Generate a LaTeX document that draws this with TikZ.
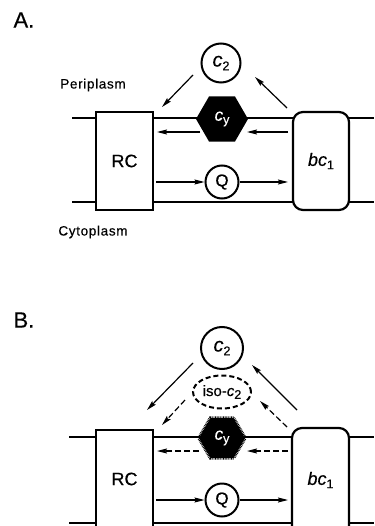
\documentclass[tikz,border=0pt]{standalone}
\usepackage{fontspec}
\setmainfont{Liberation Sans}[FakeBold=0.4]
\newfontfamily\spaced{Liberation Sans}[LetterSpace=5,FakeBold=0.4]
\usetikzlibrary{arrows.meta,shapes.geometric}
\newcommand{\mysub}[1]{\raisebox{-0.35ex}{\fontsize{12.5}{12.5}\selectfont #1}}
\begin{document}
\begin{tikzpicture}[x=1pt,y=-1pt,
  memb/.style={line width=1.8pt},
  boxrc/.style={draw,line width=2.2pt,fill=white},
  boxbc/.style={draw,line width=2.2pt,fill=white,rounded corners=10pt},
  circ/.style={draw,circle,line width=2pt,fill=white,inner sep=0pt},
  arr/.style={line width=1.2pt,-{Stealth[length=10pt,width=5pt,inset=1.5pt]}},
  darr/.style={arr,dash pattern=on 6pt off 3pt},
  lbl/.style={font=\fontsize{13.5}{13.5}\selectfont\spaced},
  big/.style={font=\fontsize{18}{18}\selectfont}]
\useasboundingbox (0,0) rectangle (374,526);
\clip (0,0) rectangle (374,526);

% ---------------- Part A ----------------
\node[anchor=west,font=\fontsize{22}{22}\selectfont] (labA) at (10,20) {A.};
\node[lbl] (peri) at (93,85) {Periplasm};
\node[lbl] (cyto) at (93,232) {Cytoplasm};
\draw[memb] (72,118) -- (374,118);
\draw[memb] (72,202) -- (374,202);
\node[boxrc,minimum width=57pt,minimum height=98pt,big] (rcA) at (124.5,161) {RC};
\node[boxbc,minimum width=56pt,minimum height=98pt,big] (bcA) at (321,161) {\itshape bc\upshape\mysub{1}};
\node[regular polygon,regular polygon sides=6,minimum size=52pt,inner sep=0pt,fill=black,text=white,font=\fontsize{17}{17}\selectfont] (cyA) at (222,119) {\itshape c\upshape\mysub{y}};
\node[circ,minimum size=39pt,font=\fontsize{20}{20}\selectfont] (c2A) at (221,63) {\itshape c\upshape\mysub{2}};
\node[circ,minimum size=33pt,font=\fontsize{17}{17}\selectfont] (qA) at (222,182) {Q};

\coordinate (a1s) at (288,132); \coordinate (a1e) at (247,132);
\coordinate (a2s) at (200,132); \coordinate (a2e) at (157,132);
\coordinate (a3s) at (156,182); \coordinate (a4e) at (288,182);
\coordinate (a5s) at (193,75);  \coordinate (a5e) at (162,107);
\coordinate (a6s) at (287,108); \coordinate (a6e) at (255,77);
\draw[arr] (a1s) -- (a1e);
\draw[arr] (a2s) -- (a2e);
\draw[arr] (a3s) -- (qA.west);
\draw[arr] (qA.east) -- (a4e);
\draw[arr] (a5s) -- (a5e);
\draw[arr] (a6s) -- (a6e);

% ---------------- Part B ----------------
\node[anchor=west,font=\fontsize{22}{22}\selectfont] (labB) at (10,320) {B.};
\draw[memb] (69,437) -- (374,437);
\draw[memb] (69,523) -- (374,523);
\node[boxrc,minimum width=57pt,minimum height=110pt] (rcB) at (124.5,485) {};
\node[big] (rcBt) at (124.5,479) {RC};
\node[boxbc,minimum width=57pt,minimum height=112pt] (bcB) at (320.5,484) {};
\node[big] (bcBt) at (320.5,480) {\itshape bc\upshape\mysub{1}};
\node[regular polygon,regular polygon sides=6,minimum size=46pt,inner sep=0pt,fill=black,draw=black,line width=3.4pt,dash pattern=on 0.8pt off 0.8pt,text=white,font=\fontsize{17}{17}\selectfont] (cyB) at (222,438) {\itshape c\upshape\mysub{y}};
\node[circ,minimum size=42pt,font=\fontsize{20}{20}\selectfont] (c2B) at (222,348) {\itshape c\upshape\mysub{2}};
\node[draw,ellipse,line width=2pt,dash pattern=on 5pt off 3pt,minimum width=58pt,minimum height=33pt,inner sep=0pt,font=\fontsize{15}{15}\selectfont] (isoB) at (222,392) {iso-\itshape c\upshape\mysub{2}};
\node[circ,minimum size=33pt,font=\fontsize{17}{17}\selectfont] (qB) at (222,500) {Q};

\coordinate (b1s) at (288,451); \coordinate (b1e) at (247,451);
\coordinate (b2s) at (199,451); \coordinate (b2e) at (157,451);
\coordinate (b3s) at (156,500); \coordinate (b4e) at (288,500);
\coordinate (b5s) at (193,363); \coordinate (b5e) at (147,410);
\coordinate (b6s) at (297,410); \coordinate (b6e) at (252,365);
\coordinate (b7s) at (185,400); \coordinate (b7e) at (162,425);
\coordinate (b8s) at (287,427); \coordinate (b8e) at (260,401);
\draw[darr] (b1s) -- (b1e);
\draw[darr] (b2s) -- (b2e);
\draw[arr] (b3s) -- (qB.west);
\draw[arr] (qB.east) -- (b4e);
\draw[arr] (b5s) -- (b5e);
\draw[arr] (b6s) -- (b6e);
\draw[darr] (b7s) -- (b7e);
\draw[darr] (b8s) -- (b8e);
\end{tikzpicture}
\end{document}
